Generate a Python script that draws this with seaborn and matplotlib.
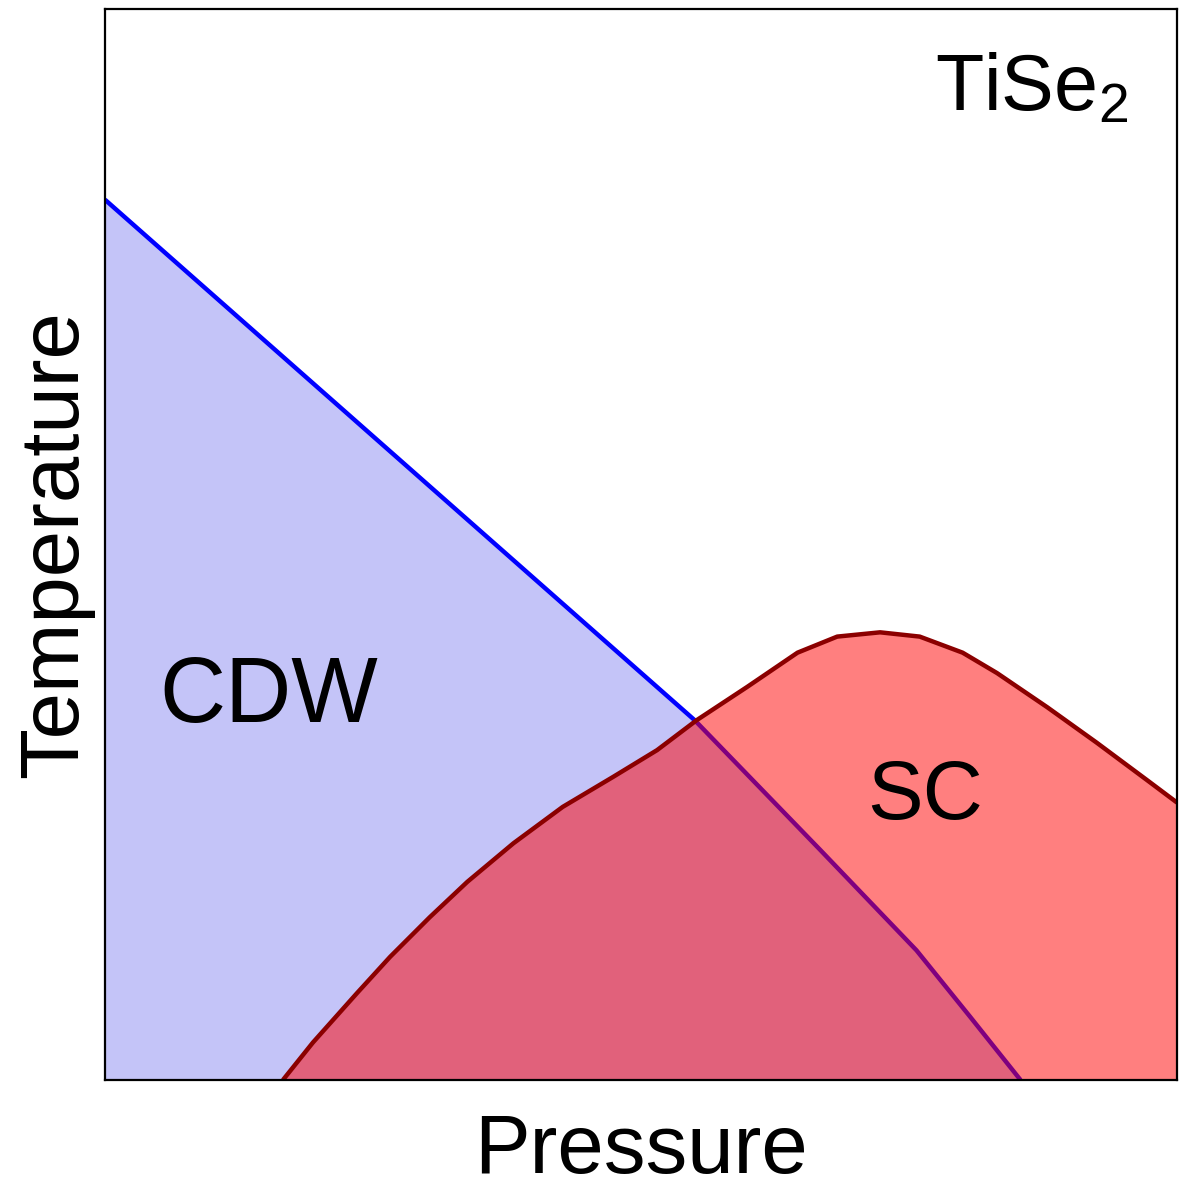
import matplotlib
matplotlib.use("Agg")
import matplotlib.pyplot as plt
import seaborn as sns
import pandas as pd

# CDW transition line (pressure, temperature), arbitrary units
cdw_pressure = [0.0, 0.550, 0.667, 0.757, 0.807, 0.854]
cdw_temp = [0.822, 0.336, 0.215, 0.121, 0.059, 0.0]

# Superconducting dome (pressure, temperature), arbitrary units
sc_pressure = [0.166, 0.194, 0.235, 0.266, 0.303, 0.338, 0.381, 0.427,
               0.474, 0.515, 0.552, 0.599, 0.646, 0.683, 0.723, 0.760,
               0.800, 0.832, 0.879, 0.925, 0.972, 1.0]
sc_temp = [0.0, 0.035, 0.081, 0.115, 0.152, 0.185, 0.221, 0.255,
           0.283, 0.308, 0.336, 0.367, 0.399, 0.414, 0.418, 0.414,
           0.399, 0.380, 0.348, 0.315, 0.280, 0.259]

phase_labels = ["CDW", "SC"]
material = "TiSe$_\\mathregular{2}$"

sns.set_theme(style="white")
plt.rcParams["font.family"] = ["Liberation Sans", "DejaVu Sans"]
plt.rcParams["mathtext.fontset"] = "custom"
plt.rcParams["mathtext.rm"] = "Liberation Sans"
plt.rcParams["text.color"] = "black"
plt.rcParams["axes.labelcolor"] = "black"

cdw = pd.DataFrame({"P": cdw_pressure, "T": cdw_temp})
sc = pd.DataFrame({"P": sc_pressure, "T": sc_temp})

fig = plt.figure(figsize=(11.82, 11.89), dpi=100)
ax = fig.add_axes([0.0888, 0.0917, 0.907, 0.9007])

# CDW region and its boundary
ax.fill_between(cdw["P"], cdw["T"], 0, color="#C4C4F8", linewidth=0, zorder=1)
sns.lineplot(data=cdw, x="P", y="T", ax=ax, color="#0000FF", linewidth=3.2,
             zorder=1.5)

# SC dome drawn semi-transparent on top
ax.fill_between(sc["P"], sc["T"], 0, color="#FF0000", alpha=0.5, linewidth=0,
                zorder=1.8)
line = sns.lineplot(data=sc, x="P", y="T", ax=ax, color="#8B0000",
                    linewidth=3.2, zorder=2)
for ln in ax.lines:
    ln.set_solid_joinstyle("round")
    ln.set_solid_capstyle("butt")

ax.set_xlim(0, 1)
ax.set_ylim(0, 1)
ax.set_xticks([])
ax.set_yticks([])
for s in ax.spines.values():
    s.set_color("black")
    s.set_linewidth(1.6)
    s.set_zorder(3)

fs = 60
ax.set_xlabel("Pressure", fontsize=fs)
ax.set_ylabel("Temperature", fontsize=fs)
ax.xaxis.set_label_coords(0.5, -0.03)
ax.yaxis.set_label_coords(-0.01, 0.5)

ax.text(0.153, 0.357, phase_labels[0], fontsize=66, ha="center", va="center")
ax.text(0.765, 0.264, phase_labels[1], fontsize=fs, ha="center", va="center")
ax.text(0.774, 0.906, material, fontsize=57, ha="left", va="baseline")

fig.savefig("out.png", dpi=100, facecolor="white")
